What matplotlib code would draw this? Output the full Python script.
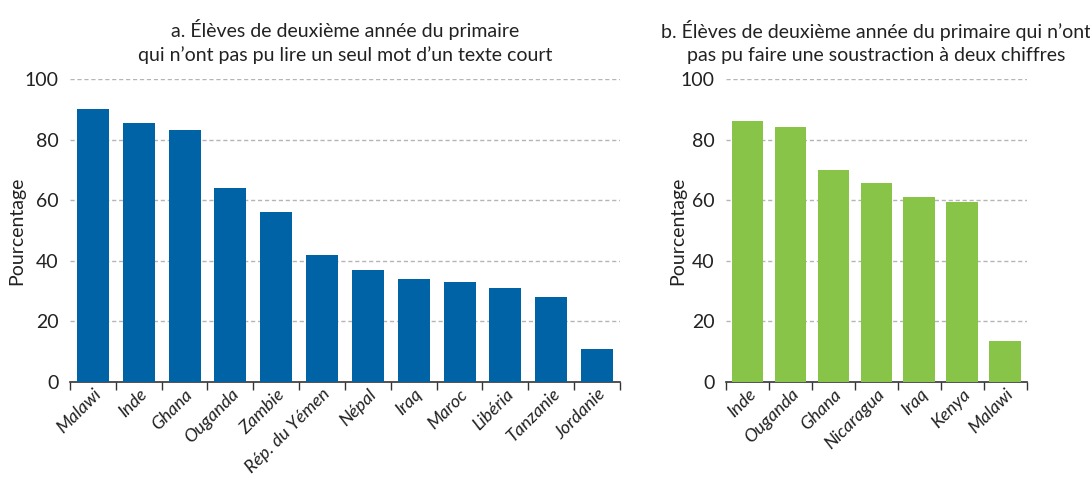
import matplotlib
matplotlib.use("Agg")
import matplotlib.pyplot as plt
import numpy as np

plt.rcParams["font.family"] = ["Lato", "DejaVu Sans"]

# Données
pays_a = ["Malawi", "Inde", "Ghana", "Ouganda", "Zambie", "Rép. du Yémen",
          "Népal", "Iraq", "Maroc", "Libéria", "Tanzanie", "Jordanie"]
valeurs_a = [90, 85.5, 83.2, 64, 56, 42, 37, 34, 33, 31, 28, 11]

pays_b = ["Inde", "Ouganda", "Ghana", "Nicaragua", "Iraq", "Kenya", "Malawi"]
valeurs_b = [86, 84.2, 70, 65.7, 61, 59.4, 13.4]

titre_a = "a. Élèves de deuxième année du primaire\nqui n’ont pas pu lire un seul mot d’un texte court"
titre_b = "b. Élèves de deuxième année du primaire qui n’ont\npas pu faire une soustraction à deux chiffres"

fig = plt.figure(figsize=(10.9, 4.8), dpi=100)
ax_a = fig.add_axes([0.0642, 0.2042, 0.5046, 0.6313])
ax_b = fig.add_axes([0.666, 0.2042, 0.2761, 0.6313])


def panneau(ax, pays, valeurs, couleur, titre, largeur, xlab):
    x = np.arange(len(pays))
    ax.bar(x, valeurs, width=largeur, color=couleur, zorder=3)
    ax.set_xlim(-0.5, len(pays) - 0.5)
    ax.set_ylim(0, 100)
    ax.set_yticks([0, 20, 40, 60, 80, 100])
    for v in [20, 40, 60, 80, 100]:
        ax.axhline(v, color="#b5b5b5", lw=1, ls=(0, (3, 2)), zorder=1)
    # ticks aux frontières des catégories
    ax.set_xticks(np.arange(len(pays) + 1) - 0.5)
    ax.set_xticklabels([])
    ax.set_xticks(x, minor=True)
    ax.set_xticklabels(pays, minor=True, rotation=45, ha="right",
                       rotation_mode="anchor", style="italic", fontsize=13,
                       color="#222222")
    ax.tick_params(axis="x", which="major", length=6, width=1, color="#333333")
    ax.tick_params(axis="x", which="minor", length=0, pad=3)
    ax.tick_params(axis="y", length=0, labelsize=14, colors="#222222", pad=8)
    for s in ["top", "right", "left"]:
        ax.spines[s].set_visible(False)
    ax.spines["bottom"].set_color("#333333")
    ax.spines["bottom"].set_linewidth(1.2)
    ax.set_ylabel("Pourcentage", fontsize=14, color="#222222")
    ax.yaxis.set_label_coords(xlab, 0.5)
    ax.set_title(titre, fontsize=14, color="#222222", pad=13, linespacing=1.4)


panneau(ax_a, pays_a, valeurs_a, "#0063a6", titre_a, 0.7, -0.082)
panneau(ax_b, pays_b, valeurs_b, "#88c448", titre_b, 0.74, -0.133)

fig.savefig("out.png", dpi=100)
